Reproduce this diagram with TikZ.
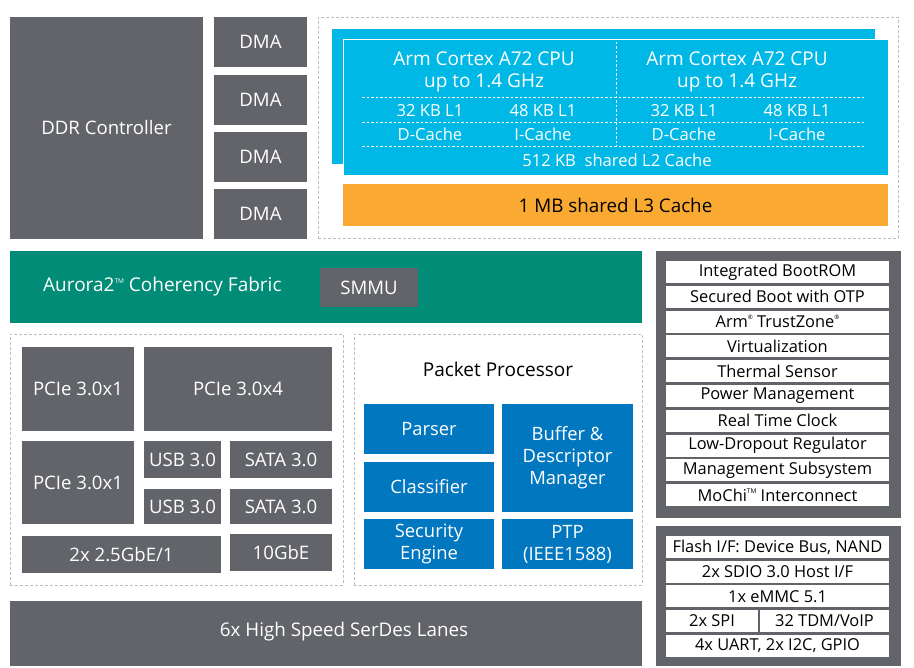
\documentclass[tikz,border=0pt]{standalone}
\usepackage{fontspec}
\setmainfont{Open Sans}
\definecolor{mgray}{HTML}{626469}
\definecolor{mteal}{HTML}{008C76}
\definecolor{mcyan}{HTML}{00B8E6}
\definecolor{morange}{HTML}{FAAA33}
\definecolor{mblue}{HTML}{0077BF}
\definecolor{mdash}{HTML}{BDBDBD}
\newcommand\blk[7]{\node[#6, minimum width={#4pt-#2pt}, minimum height={#5pt-#3pt}] (#1) at (#2,#3) {#7};}
\newcommand\regm{{\raisebox{0.5em}{\fontsize{6}{6}\selectfont ®}}}
\newcommand\tmm{{\raisebox{0.45em}{\fontsize{6.5}{6.5}\selectfont TM}}}
\begin{document}
\begin{tikzpicture}[x=1pt,y=-1pt,
  base/.style={inner sep=0pt, outer sep=0pt, anchor=north west, align=center, font=\fontsize{18.6}{22}\selectfont},
  gbox/.style={base, fill=mgray, text=white},
  tealbox/.style={base, fill=mteal, text=white},
  cyanbox/.style={base, fill=mcyan, text=white},
  orangebox/.style={base, fill=morange, text=black},
  bluebox/.style={base, fill=mblue, text=white, font=\fontsize{18.4}{22}\selectfont},
  rowbox/.style={base, fill=white, text=black, font=\fontsize{16.4}{19}\selectfont},
  dashbox/.style={base, draw=mdash, line width=0.8pt, dash pattern=on 3pt off 2pt},
  cputxt/.style={inner sep=0pt, text=white, align=center, font=\fontsize{19}{21.5}\selectfont},
  cachetxt/.style={inner sep=0pt, text=white, align=center, font=\fontsize{16.6}{18}\selectfont},
  innerdash/.style={draw=white, line width=0.7pt, dash pattern=on 2.5pt off 2pt}]
\useasboundingbox (0,0) rectangle (914,668);
% top-left
\blk{ddr}{10}{17}{203}{239}{gbox}{DDR Controller}
\blk{dma1}{214}{17}{307}{67}{gbox}{DMA}
\blk{dma2}{214}{75}{307}{125}{gbox}{DMA}
\blk{dma3}{214}{132}{307}{182}{gbox}{DMA}
\blk{dma4}{214}{189}{307}{239}{gbox}{DMA}
% CPU cluster
\blk{cpuframe}{318}{17}{898}{238}{dashbox}{}
\blk{cpuback}{332}{29}{875}{164}{cyanbox}{}
\blk{cpufront}{343}{40}{888}{176}{cyanbox, draw=white, line width=1pt}{}
\blk{lthree}{343}{184}{888}{226}{orangebox, font=\fontsize{18.8}{22}\selectfont}{1 MB shared L3 Cache}
\node[cputxt] (cpua) at (484,72) {Arm Cortex A72 CPU\\up to 1.4 GHz};
\node[cputxt] (cpub) at (737,72) {Arm Cortex A72 CPU\\up to 1.4 GHz};
\node[cachetxt] (la1) at (430,111) {32 KB L1};
\node[cachetxt] (la2) at (543,111) {48 KB L1};
\node[cachetxt] (lb1) at (684,111) {32 KB L1};
\node[cachetxt] (lb2) at (797,111) {48 KB L1};
\node[cachetxt] (da1) at (430,134) {D-Cache};
\node[cachetxt] (da2) at (543,134) {I-Cache};
\node[cachetxt] (db1) at (684,134) {D-Cache};
\node[cachetxt] (db2) at (797,134) {I-Cache};
\node[cachetxt] (ltwo) at (617,160) {512 KB\ \ shared L2 Cache};
\draw[innerdash] (362,97) -- (865,97);
\draw[innerdash] (362,122) -- (865,122);
\draw[innerdash] (362,146) -- (865,146);
\draw[innerdash] (616,42) -- (616,146);
% fabric
\blk{fabric}{10}{251}{642}{323}{tealbox}{}
\node[inner sep=0pt, text=white, font=\fontsize{19}{22}\selectfont, anchor=west] (fabtxt) at (43,287) {Aurora2\tmm\ Coherency Fabric};
\blk{smmu}{320}{268}{418}{307}{gbox}{SMMU}
% IO
\blk{ioframe}{10}{334}{343}{585}{dashbox}{}
\blk{pcia}{22}{347}{134}{431}{gbox}{PCIe 3.0x1}
\blk{pcib}{144}{347}{332}{431}{gbox}{PCIe 3.0x4}
\blk{pcic}{22}{441}{134}{524}{gbox}{PCIe 3.0x1}
\blk{usba}{144}{441}{221}{478}{gbox}{USB 3.0}
\blk{sataa}{230}{441}{332}{478}{gbox}{SATA 3.0}
\blk{usbb}{144}{489}{221}{524}{gbox}{USB 3.0}
\blk{satab}{230}{489}{332}{524}{gbox}{SATA 3.0}
\blk{gbe}{22}{536}{221}{573}{gbox}{2x 2.5GbE/1}
\blk{tengbe}{230}{534}{332}{571}{gbox}{10GbE}
% packet processor
\blk{ppframe}{354}{334}{642}{585}{dashbox}{}
\node[inner sep=0pt, font=\fontsize{19}{22}\selectfont, text=black] (pptitle) at (498,369) {Packet Processor};
\blk{parser}{364}{404}{494}{454}{bluebox}{Parser}
\blk{classifier}{364}{462}{494}{512}{bluebox}{Classifier}
\blk{security}{364}{519}{494}{569}{bluebox}{Security\\Engine}
\blk{buffer}{502}{404}{633}{512}{bluebox}{Buffer \&\\Descriptor\\Manager}
\blk{ptp}{502}{519}{633}{569}{bluebox}{PTP\\(IEEE1588)}
% serdes
\blk{serdes}{10}{601}{642}{666}{gbox}{}
\node[inner sep=0pt, text=white, font=\fontsize{18.8}{22}\selectfont] (serdestxt) at (344,632) {6x High Speed SerDes Lanes};
% right panel
\blk{feat}{656}{251}{901}{518}{gbox}{}
\blk{f1}{666}{261}{889}{283}{rowbox}{Integrated BootROM}
\blk{f2}{666}{285.8}{889}{307.8}{rowbox}{Secured Boot with OTP}
\blk{f3}{666}{310.6}{889}{332.6}{rowbox}{Arm\regm\ TrustZone\regm}
\blk{f4}{666}{335.4}{889}{357.4}{rowbox}{Virtualization}
\blk{f5}{666}{360.2}{889}{382.2}{rowbox}{Thermal Sensor}
\blk{f6}{666}{385}{889}{407}{rowbox}{Power Management}
\blk{f7}{666}{409.8}{889}{431.8}{rowbox}{Real Time Clock}
\blk{f8}{666}{434.6}{889}{456.6}{rowbox}{Low-Dropout Regulator}
\blk{f9}{666}{459.4}{889}{481.4}{rowbox}{Management Subsystem}
\blk{f10}{666}{484.2}{889}{506.2}{rowbox}{MoChi\tmm\ Interconnect}
\blk{ioright}{656}{526}{901}{666}{gbox}{}
\blk{g1}{666}{536}{889}{558}{rowbox}{Flash I/F: Device Bus, NAND}
\blk{g2}{666}{560.7}{889}{582.7}{rowbox}{2x SDIO 3.0 Host I/F}
\blk{g3}{666}{585.4}{889}{607.4}{rowbox}{1x eMMC 5.1}
\blk{g4a}{666}{610.1}{758}{632.1}{rowbox}{2x SPI}
\blk{g4b}{760}{610.1}{889}{632.1}{rowbox}{32 TDM/VoIP}
\blk{g5}{666}{634.8}{889}{656.8}{rowbox}{4x UART, 2x I2C, GPIO}
\end{tikzpicture}
\end{document}
